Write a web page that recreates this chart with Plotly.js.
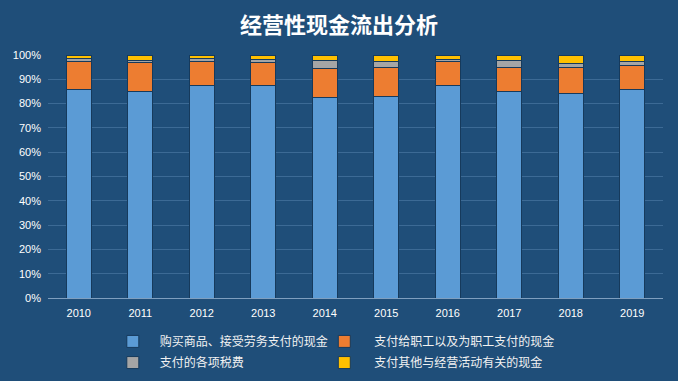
<!DOCTYPE html>
<html><head><meta charset="utf-8">
<script src="https://cdn.plot.ly/plotly-3.0.1.min.js"></script>
<style>html,body{margin:0;padding:0;background:#1f4e79;}#c{width:678px;height:381px;}</style>
</head><body><div id="c"></div>
<script>
const years = ['2010','2011','2012','2013','2014','2015','2016','2017','2018','2019'];
const purchase = [85.9, 85.1, 87.6, 87.6, 82.5, 83.0, 87.6, 85.1, 84.2, 85.9];
const staff    = [11.6, 11.8, 9.9, 9.3, 11.9, 11.9, 9.9, 9.8, 10.7, 9.9];
const taxes    = [1.0, 0.7, 1.0, 1.3, 3.3, 2.6, 0.7, 2.8, 1.7, 1.7];
const others   = [1.5, 2.4, 1.5, 1.8, 2.3, 2.5, 1.8, 2.3, 3.4, 2.5];
const names = ['购买商品、接受劳务支付的现金','支付给职工以及为职工支付的现金','支付的各项税费','支付其他与经营活动有关的现金'];
const colors = ['#5b9bd5','#ed7d31','#a5a5a5','#ffc000'];
const legendIds = ['legend','legend3','legend2','legend4'];
const series = [purchase, staff, taxes, others];
const traces = series.map((s,i)=>({
  type:'bar', x:years, y:s, name:names[i], legend:legendIds[i],
  marker:{color:colors[i], line:{color:'#163a5c', width:1}},
  hoverinfo:'y+name'
}));
const legFont = {size:12, color:'#f2f2f2', family:'"Noto Sans CJK SC", sans-serif'};
function leg(x, y, w){
  return {orientation:'h', x:x, xanchor:'left', y:y, yanchor:'top', itemwidth:w,
    font:legFont, bgcolor:'rgba(0,0,0,0)'};
}
const layout = {
  width:678, height:381,
  paper_bgcolor:'#1f4e79', plot_bgcolor:'#1f4e79',
  font:{family:'"Noto Sans CJK SC", "Noto Sans", sans-serif', color:'#ffffff', size:11},
  title:{text:'<b>经营性现金流出分析</b>', x:0.5, xanchor:'center', y:1-25/381, yanchor:'middle',
    font:{size:22, color:'#ffffff', family:'"Noto Sans CJK SC", sans-serif'}},
  barmode:'stack', barnorm:'percent', bargap:0.59,
  margin:{l:48, r:15, t:55, b:83, autoexpand:false},
  xaxis:{type:'category', showgrid:false, zeroline:false, showline:true, linecolor:'#7f9fbf', linewidth:1,
    tickfont:{size:11, color:'#ffffff', family:'"Liberation Sans", Arial, sans-serif'}, ticks:'', ticklabelstandoff:5},
  yaxis:{range:[0,100], dtick:10, ticksuffix:'%', showgrid:true, gridcolor:'#3c6a95', gridwidth:1,
    zeroline:false, showline:false, ticklabelstandoff:6,
    tickfont:{size:11, color:'#ffffff', family:'"Liberation Sans", Arial, sans-serif'}},
  showlegend:true,
  legend: leg(0.094, -0.119, 44),
  legend2: leg(0.094, -0.206, 44),
  legend3: leg(0.433, -0.119, 50),
  legend4: leg(0.433, -0.206, 50)
};
Plotly.newPlot('c', traces, layout, {displayModeBar:false, staticPlot:true});
</script>
</body></html>
